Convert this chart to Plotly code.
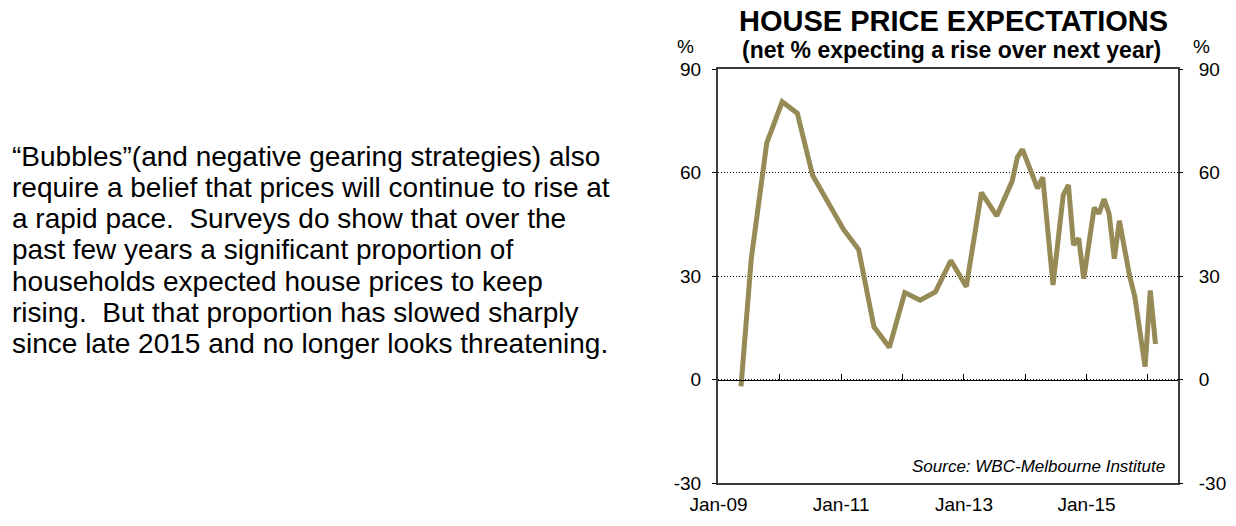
import plotly.graph_objects as go

# ---- data ----
dates = [
    "2009-05-15", "2009-07-15", "2009-10-15",
    "2010-01-15", "2010-04-15", "2010-07-15",
    "2011-01-15", "2011-04-15", "2011-07-15", "2011-10-15",
    "2012-01-15", "2012-04-15", "2012-07-15", "2012-10-15",
    "2013-01-15", "2013-04-15", "2013-07-15", "2013-10-15", "2013-11-15", "2013-12-15",
    "2014-03-15", "2014-04-15", "2014-06-15", "2014-08-15", "2014-09-15",
    "2014-10-15", "2014-11-15", "2014-12-15",
    "2015-02-15", "2015-03-15", "2015-04-15", "2015-05-15", "2015-06-15",
    "2015-07-15", "2015-09-15", "2015-10-15", "2015-12-15",
    "2016-01-15", "2016-02-15",
]
net_expecting_rise = [
    -2, 35, 68.5,
    80.5, 77.2, 59.2,
    43.5, 37.7, 15.3, 9.3,
    25.2, 23, 25.4, 34.5,
    26.9, 54.2, 47.4, 57.5, 64.4, 66.7,
    55.4, 58.6, 27.4, 53.5, 56.4,
    39, 40.9, 29.2,
    49.8, 48.1, 52.3, 48, 35,
    46, 29.8, 24, 3.7,
    25.8, 10.3,
]

x_tick_vals = ["2009-01-01", "2011-01-01", "2013-01-01", "2015-01-01"]
x_tick_text = ["Jan-09", "Jan-11", "Jan-13", "Jan-15"]
x_minor_ticks = ["2010-01-01", "2011-01-01", "2012-01-01", "2013-01-01",
                 "2014-01-01", "2015-01-01", "2016-01-01"]
y_tick_vals = [-30, 0, 30, 60, 90]
y_tick_text = ["-30", "0", "30", "60", "90"]
x_range = ["2008-12-29", "2016-06-28"]
y_range = [-30, 90]

paragraph = [
    "\u201cBubbles\u201d(and negative gearing strategies) also",
    "require a belief that prices will continue to rise at",
    "a rapid pace.  Surveys do show that over the",
    "past few years a significant proportion of",
    "households expected house prices to keep",
    "rising.  But that proportion has slowed sharply",
    "since late 2015 and no longer looks threatening.",
]

FONT = "Liberation Sans, Arial, sans-serif"
LINE_COLOR = "rgb(150,139,86)"

# figure fills the window (page body margin removed in post_script)
W, H = 1236, 526
PLOT_LEFT, PLOT_RIGHT, PLOT_TOP, PLOT_BOTTOM = 718, 1178, 69, 483
L, T = PLOT_LEFT, PLOT_TOP
R, B = W - PLOT_RIGHT, H - PLOT_BOTTOM
PW, PH = W - L - R, H - T - B


def px_x(px):
    return (px - L) / PW


def px_y(py):
    return (H - B - py) / PH


fig = go.Figure()
fig.add_trace(go.Scatter(
    x=dates, y=net_expecting_rise, mode="lines",
    line=dict(color=LINE_COLOR, width=5),
    showlegend=False, hoverinfo="skip",
))
# empty traces to create the overlay axes (zero-line ticks, right y axis)
fig.add_trace(go.Scatter(x=[], y=[], xaxis="x2", yaxis="y", showlegend=False))
fig.add_trace(go.Scatter(x=[], y=[], xaxis="x", yaxis="y2", showlegend=False))

tick_font = dict(family=FONT, size=19, color="black")

fig.update_layout(
    template="none",
    width=W, height=H,
    margin=dict(l=L, r=R, t=T, b=B, pad=0, autoexpand=False),
    paper_bgcolor="white", plot_bgcolor="white",
    font=dict(family=FONT, color="black"),
    hovermode=False,
    xaxis=dict(
        range=x_range, type="date", automargin=False,
        tickmode="array", tickvals=x_tick_vals, ticktext=x_tick_text,
        ticks="", tickfont=tick_font, ticklabelstandoff=3,
        showgrid=False, zeroline=False,
        showline=True, linecolor="#3c3c3c", linewidth=2, mirror=True,
    ),
    xaxis2=dict(
        range=x_range, type="date", overlaying="x", anchor="free", position=0.25,
        automargin=False,
        tickmode="array", tickvals=x_minor_ticks,
        ticks="inside", ticklen=6, tickcolor="black", tickwidth=1,
        showticklabels=False, showgrid=False, zeroline=False,
        showline=True, linecolor="black", linewidth=1,
    ),
    yaxis=dict(
        range=y_range, automargin=False,
        tickmode="array", tickvals=y_tick_vals, ticktext=y_tick_text,
        ticks="outside", ticklen=4, tickcolor="black", tickfont=tick_font,
        ticklabelstandoff=7,
        showgrid=True, gridcolor="black", gridwidth=1, griddash="1px,2px",
        zeroline=False,
        showline=True, linecolor="#3c3c3c", linewidth=2, mirror=True,
    ),
    yaxis2=dict(
        range=y_range, overlaying="y", side="right", anchor="x", automargin=False,
        tickmode="array", tickvals=y_tick_vals, ticktext=y_tick_text,
        ticks="outside", ticklen=4, tickcolor="black", tickfont=tick_font,
        ticklabelstandoff=12,
        showgrid=False, zeroline=False, showline=False,
    ),
)

ann = []
ann.append(dict(text="<b>HOUSE PRICE EXPECTATIONS</b>", x=px_x(953), y=px_y(21),
                font=dict(family=FONT, size=29, color="black")))
ann.append(dict(text="<b>(net % expecting a rise over next year)</b>", x=px_x(951), y=px_y(50),
                font=dict(family=FONT, size=23, color="black")))
ann.append(dict(text="%", x=px_x(685), y=px_y(47), font=dict(family=FONT, size=19, color="black")))
ann.append(dict(text="%", x=px_x(1201), y=px_y(47), font=dict(family=FONT, size=19, color="black")))
ann.append(dict(text="<i>Source: WBC-Melbourne Institute</i>", x=px_x(1167), y=px_y(466),
                xanchor="right", font=dict(family=FONT, size=17, color="black")))

line_y0, line_step = 156, 31.3
for i, line in enumerate(paragraph):
    ann.append(dict(text=line, x=px_x(10), y=px_y(line_y0 + i * line_step),
                    xanchor="left", align="left",
                    font=dict(family=FONT, size=28, color="black")))

for a in ann:
    a.setdefault("xanchor", "center")
    a.update(xref="paper", yref="paper", yanchor="middle", showarrow=False)
fig.update_layout(annotations=ann)

fig.write_html(
    "out.html",
    config={"displayModeBar": False, "staticPlot": True},
    post_script="document.body.style.margin='0';document.body.style.overflow='hidden';",
)
